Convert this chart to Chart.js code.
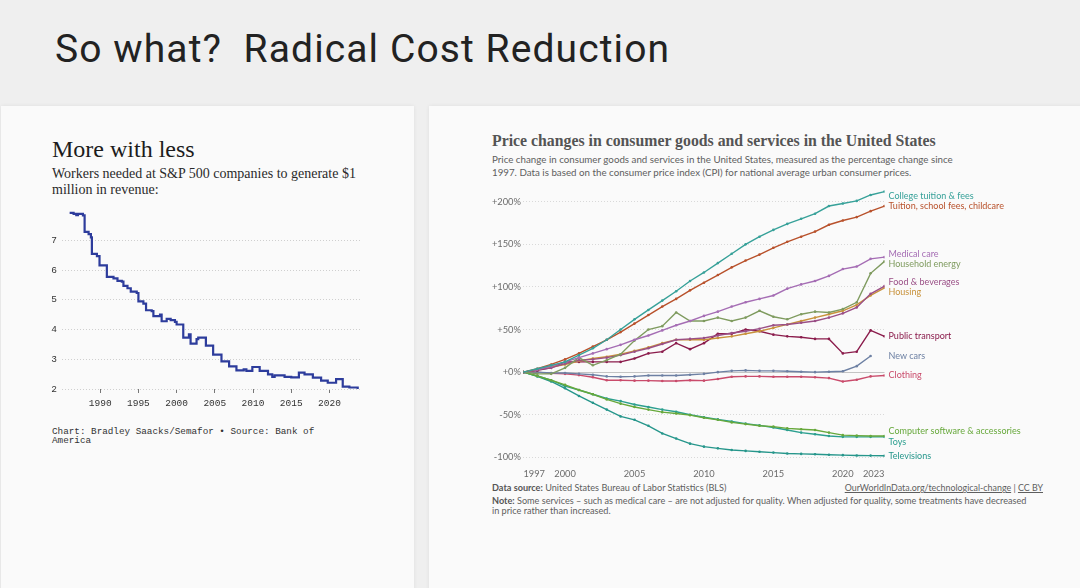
<!DOCTYPE html>
<html lang="en">
<head>
  <meta charset="UTF-8">
  <title>So what? Radical Cost Reduction</title>
  <script src="https://cdn.jsdelivr.net/npm/chart.js"></script>
  <style>
    body { margin: 0; width: 1080px; height: 588px; background: #efefef; overflow: hidden; position: relative; }
    .abs { position: absolute; white-space: nowrap; }
    .card { position: absolute; background: #fafafa; box-shadow: 0 0 4px rgba(0,0,0,0.07); }
    h1 { position: absolute; left: 55px; top: 30px; margin: 0; font: 400 39px/1 Roboto, sans-serif; letter-spacing: 1.1px; color: #222; }
    .ltitle { left: 52px; top: 137px; font: 400 24px/1 "Liberation Serif", serif; color: #1c1c1c; }
    .lsub { left: 52px; top: 166px; font: 400 14px/16px "Liberation Serif", serif; color: #2a2a2a; }
    .lfoot { left: 52px; top: 427px; font: 400 9.3px/9.3px "Liberation Mono", monospace; color: #333; }
    .rtitle { left: 492px; top: 133px; font: 700 15.8px/1 "Liberation Serif", serif; color: #545454; }
    .rsub { left: 492px; top: 153px; font: 400 9.75px/12.7px Lato, sans-serif; color: #5e5e5e; }
    .rfoot { left: 492px; font: 400 9.15px/10px Lato, sans-serif; color: #5e5e5e; }
    .rfoot b { font-weight: 700; color: #555; }
    .rlink { right: 37px; top: 483px; font: 400 8.9px/10px Lato, sans-serif; color: #5e5e5e; }
    .rlink u { text-decoration: underline; }
    .wrap { position: absolute; }
  </style>
</head>
<body>
  <h1>So what?&nbsp; Radical Cost Reduction</h1>
  <div class="card" style="left:1px;top:106px;width:413px;height:490px"></div>
  <div class="card" style="left:429px;top:106px;width:660px;height:490px"></div>

  <div class="abs ltitle">More with less</div>
  <div class="abs lsub">Workers needed at S&amp;P 500 companies to generate $1<br>million in revenue:</div>
  <div class="wrap" style="left:45px;top:200px;width:320px;height:215px"><canvas id="leftChart"></canvas></div>
  <div class="abs lfoot">Chart: Bradley Saacks/Semafor • Source: Bank of<br>America</div>

  <div class="abs rtitle">Price changes in consumer goods and services in the United States</div>
  <div class="abs rsub">Price change in consumer goods and services in the United States, measured as the percentage change since<br>1997. Data is based on the consumer price index (CPI) for national average urban consumer prices.</div>
  <div class="wrap" style="left:488px;top:180px;width:590px;height:300px"><canvas id="rightChart"></canvas></div>
  <div class="abs rfoot" style="top:483px"><b>Data source:</b> United States Bureau of Labor Statistics (BLS)</div>
  <div class="abs rlink"><u>OurWorldInData.org/technological-change</u> | <u>CC BY</u></div>
  <div class="abs rfoot" style="top:496px"><b>Note:</b> Some services – such as medical care – are not adjusted for quality. When adjusted for quality, some treatments have decreased<br>in price rather than increased.</div>

  <script>
    // left chart: workers per $1m revenue (stepped series)
    const workerYears = [1986.0, 1986.52, 1986.87, 1987.09, 1987.74, 1987.96, 1988.48, 1988.78, 1988.91, 1989.57,
      1989.91, 1990.87, 1991.74, 1992.26, 1992.83, 1993.04, 1993.57, 1994.0, 1994.78, 1995.0,
      1995.65, 1996.0, 1996.74, 1996.96, 1997.83, 1998.04, 1998.7, 1999.22, 1999.78, 2000.0,
      2000.87, 2001.61, 2001.83, 2002.61, 2002.83, 2003.83, 2004.78, 2005.87, 2006.87, 2007.83,
      2008.78, 2009.13, 2009.91, 2010.87, 2011.96, 2012.52, 2012.83, 2014.13, 2015.0, 2016.0,
      2016.74, 2017.83, 2018.91, 2019.78, 2020.87, 2021.74, 2022.61, 2023.7]
    const workerValues = [7.93, 7.89, 7.85, 7.89, 7.84, 7.29, 7.21, 7.1, 6.55, 6.47,
      6.16, 5.77, 5.72, 5.64, 5.61, 5.47, 5.39, 5.28, 5.23, 4.95,
      4.87, 4.65, 4.62, 4.45, 4.5, 4.28, 4.36, 4.32, 4.26, 4.17,
      3.73, 3.84, 3.53, 3.68, 3.73, 3.46, 3.16, 2.93, 2.76, 2.63,
      2.66, 2.61, 2.74, 2.61, 2.49, 2.41, 2.46, 2.41, 2.39, 2.55,
      2.49, 2.38, 2.28, 2.21, 2.33, 2.08, 2.05, 1.99]
    const workerTicksX = [1990, 1995, 2000, 2005, 2010, 2015, 2020]
    const workerTicksY = [2, 3, 4, 5, 6, 7]

    // right chart: % price change since 1997
    const years = [1997, 1998, 1999, 2000, 2001, 2002, 2003, 2004, 2005, 2006, 2007, 2008, 2009, 2010,
      2011, 2012, 2013, 2014, 2015, 2016, 2017, 2018, 2019, 2020, 2021, 2022, 2023]
    const collegeTuition = [0, 4, 8, 12, 20, 28, 38, 50, 62, 73, 84, 95, 107, 117, 128, 139, 150, 159, 167, 174, 180, 186, 195, 198, 201, 208, 212]
    const schoolFees = [0, 4, 9, 15, 22, 30, 38, 47, 57, 67, 77, 86, 96, 105, 114, 123, 131, 138, 146, 153, 159, 165, 173, 178, 182, 189, 195]
    const medicalCare = [0, 3, 7, 12, 17, 22, 27, 32, 38, 43, 49, 55, 60, 66, 71, 77, 82, 86, 90, 98, 103, 107, 113, 121, 124, 133, 135]
    const householdEnergy = [0, -2, -2, 5, 17, 8, 14, 21, 37, 50, 54, 70, 60, 60, 64, 60, 64, 72, 65, 62, 68, 71, 70, 74, 82, 116, 130]
    const foodBeverages = [0, 3, 5, 10, 14, 15, 17, 20, 24, 28, 33, 38, 39, 40, 43, 46, 48, 51, 55, 56, 58, 60, 64, 69, 76, 92, 101]
    const housing = [0, 3, 6, 9, 13, 16, 18, 21, 25, 29, 34, 38, 38, 38, 40, 42, 45, 48, 52, 56, 60, 64, 68, 72, 79, 90, 99]
    const publicTransport = [0, 2, 5, 12, 12, 12, 12, 12, 16, 22, 24, 34, 27, 34, 45, 45, 50, 48, 44, 42, 41, 39, 39, 22, 24, 49, 42]
    const newCars = [0, 0, -1, -1, -2, -3, -5, -5.5, -5, -4, -4, -4, -3, -2, 0, 1.5, 2, 1.5, 1.5, 1, 0.5, 0, 0.5, 1, 7, 19, null]
    const clothing = [0, 0, -1.5, -2, -3.5, -6, -9.5, -9.5, -10, -10, -10.5, -10.5, -9.5, -10, -8, -5.5, -5, -5, -5.5, -5.5, -5.5, -6, -7, -11, -9, -5, -4]
    const software = [0, -4.5, -9.5, -15, -21, -26, -32, -37, -41, -44, -47, -48.5, -50.5, -53.5, -56, -59, -61, -63, -64, -66, -67, -68, -71, -74, -74.5, -75, -75]
    const toys = [0, -4.5, -9.5, -16.5, -21, -26, -31, -34, -38, -41, -44, -46.5, -50, -53, -55.5, -58, -60.5, -62.5, -65, -68, -71, -73, -75, -76, -76, -76, -76]
    const televisions = [0, -5, -11, -19, -28, -36, -44, -52, -56, -63, -72, -78, -84, -87.5, -89.5, -91.5, -92.5, -93.5, -94.5, -95.5, -96, -96.5, -97, -97.5, -97.8, -98, -98.2]
    const priceTicksX = [1997, 2000, 2005, 2010, 2015, 2020, 2023]
    const priceTicksY = [-100, -50, 0, 50, 100, 150, 200]

    const series = [
      ['College tuition & fees', collegeTuition, '#37a199'],
      ['Tuition, school fees, childcare', schoolFees, '#b8512b'],
      ['Medical care', medicalCare, '#a56db4'],
      ['Household energy', householdEnergy, '#7f9b5f'],
      ['Food & beverages', foodBeverages, '#9a4f86'],
      ['Housing', housing, '#c8923b'],
      ['Public transport', publicTransport, '#8b1c4c'],
      ['New cars', newCars, '#6d80a3'],
      ['Clothing', clothing, '#c94b6b'],
      ['Computer software & accessories', software, '#67a83b'],
      ['Toys', toys, '#2b9f8f'],
      ['Televisions', televisions, '#26968b']
    ]

    Chart.defaults.animation = false

    new Chart(document.getElementById('leftChart'), {
      type: 'line',
      data: {
        datasets: [{
          data: workerYears.map((x, i) => ({ x: x, y: workerValues[i] })),
          borderColor: '#2d3c9c',
          borderWidth: 2.2,
          pointRadius: 0,
          stepped: true
        }]
      },
      options: {
        responsive: true,
        maintainAspectRatio: false,
        layout: { padding: { top: 8, right: 5 } },
        plugins: { legend: { display: false }, tooltip: { enabled: false } },
        scales: {
          x: {
            type: 'linear', min: 1985, max: 2024,
            afterBuildTicks: s => { s.ticks = workerTicksX.map(v => ({ value: v })) },
            afterFit: s => { s.height = 26 },
            grid: { drawOnChartArea: false, tickLength: 4, color: '#777' },
            border: { display: false },
            ticks: { font: { family: 'Liberation Mono', size: 9.5 }, color: '#333', padding: 5, maxRotation: 0, callback: v => String(v) }
          },
          y: {
            min: 2, max: 8,
            afterBuildTicks: s => { s.ticks = workerTicksY.map(v => ({ value: v })) },
            afterFit: s => { s.width = 17 },
            grid: { drawTicks: false, color: '#cfcfcf' },
            border: { display: false, dash: [1, 2] },
            ticks: { font: { family: 'Liberation Mono', size: 9.5 }, color: '#333', padding: 5 }
          }
        }
      }
    })

    // end-of-line labels, spread so they don't overlap
    const endLabels = {
      id: 'endLabels',
      afterDatasetsDraw(chart) {
        const { ctx, chartArea, scales } = chart
        const gap = 10.5
        const top = chartArea.top + 7
        const items = chart.data.datasets.map(ds => {
          let last = ds.data.length - 1
          while (ds.data[last].y == null) last--
          return { text: ds.label, color: ds.borderColor, target: scales.y.getPixelForValue(ds.data[last].y) }
        }).sort((a, b) => a.target - b.target)
        const place = g => {
          const mean = g.items.reduce((s, it) => s + it.target, 0) / g.items.length
          g.start = Math.max(top, mean - gap * (g.items.length - 1) / 2)
        }
        let groups = items.map(it => ({ items: [it] }))
        groups.forEach(place)
        let merged = true
        while (merged) {
          merged = false
          for (let i = 0; i < groups.length - 1; i++) {
            const a = groups[i], b = groups[i + 1]
            if (a.start + gap * a.items.length > b.start) {
              a.items = a.items.concat(b.items)
              place(a)
              groups.splice(i + 1, 1)
              merged = true
              break
            }
          }
        }
        ctx.save()
        ctx.font = '9px Lato'
        ctx.textBaseline = 'middle'
        groups.forEach(g => g.items.forEach((it, k) => {
          ctx.fillStyle = it.color
          ctx.fillText(it.text, chartArea.right + 4, g.start + k * gap)
        }))
        ctx.restore()
      }
    }

    new Chart(document.getElementById('rightChart'), {
      type: 'line',
      data: {
        datasets: series.map(([name, vals, color]) => ({
          label: name,
          data: years.map((x, i) => ({ x: x, y: vals[i] })),
          borderColor: color,
          backgroundColor: color,
          borderWidth: 1.4,
          pointRadius: 1.3,
          pointBorderWidth: 0,
          spanGaps: false
        }))
      },
      options: {
        responsive: true,
        maintainAspectRatio: false,
        layout: { padding: { top: 9, right: 193.5 } },
        plugins: { legend: { display: false }, tooltip: { enabled: false } },
        scales: {
          x: {
            type: 'linear', min: 1997, max: 2023,
            afterBuildTicks: s => { s.ticks = priceTicksX.map(v => ({ value: v })) },
            afterFit: s => { s.height = 22.7 },
            grid: { display: false },
            border: { display: false },
            ticks: { align: 'inner', font: { family: 'Lato', size: 9.3 }, color: '#6b6b6b', padding: 3, maxRotation: 0, callback: v => String(v) }
          },
          y: {
            min: -100, max: 215,
            afterBuildTicks: s => { s.ticks = priceTicksY.map(v => ({ value: v })) },
            afterFit: s => { s.width = 35.4 },
            grid: { drawTicks: false, color: c => c.tick && c.tick.value === 0 ? '#c4c4c4' : '#d9d9d9' },
            border: { display: false, dash: c => c.tick && c.tick.value === 0 ? [] : [1, 2] },
            ticks: {
              font: { family: 'Lato', size: 9.3 }, color: '#6b6b6b', padding: 2.5,
              callback: v => v > 0 ? '+' + v + '%' : v === 0 ? '+0%' : v + '%'
            }
          }
        }
      },
      plugins: [endLabels]
    })
  </script>
</body>
</html>
